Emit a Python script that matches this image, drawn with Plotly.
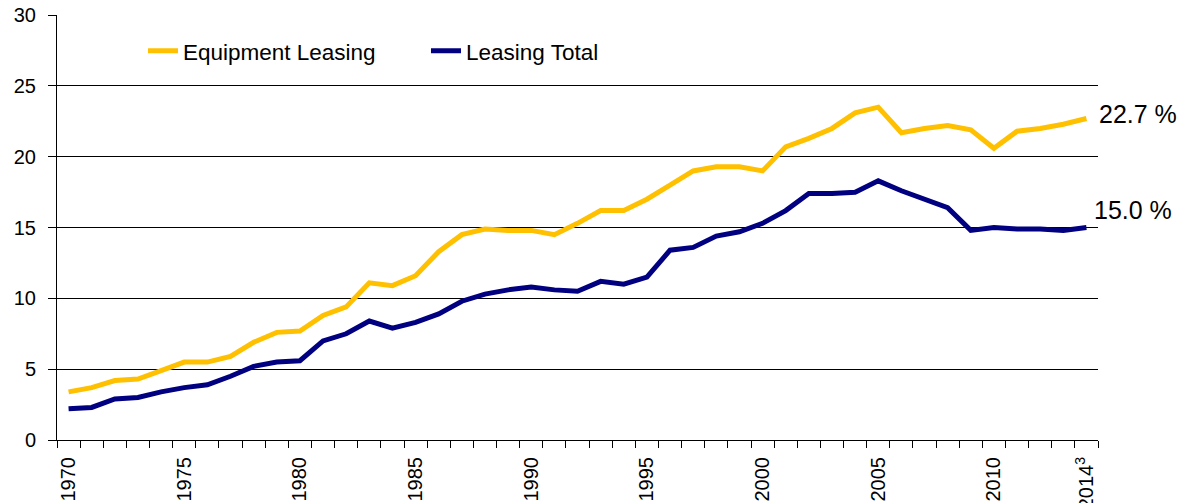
import plotly.graph_objects as go

years = list(range(1970, 2015))

equipment_leasing = [3.4, 3.7, 4.2, 4.3, 4.9, 5.5, 5.5, 5.9, 6.9, 7.6,
                     7.7, 8.8, 9.4, 11.1, 10.9, 11.6, 13.3, 14.5, 14.9, 14.8,
                     14.8, 14.5, 15.3, 16.2, 16.2, 17.0, 18.0, 19.0, 19.3, 19.3,
                     19.0, 20.7, 21.3, 22.0, 23.1, 23.5, 21.7, 22.0, 22.2, 21.9,
                     20.6, 21.8, 22.0, 22.3, 22.7]

leasing_total = [2.2, 2.3, 2.9, 3.0, 3.4, 3.7, 3.9, 4.5, 5.2, 5.5,
                 5.6, 7.0, 7.5, 8.4, 7.9, 8.3, 8.9, 9.8, 10.3, 10.6,
                 10.8, 10.6, 10.5, 11.2, 11.0, 11.5, 13.4, 13.6, 14.4, 14.7,
                 15.3, 16.2, 17.4, 17.4, 17.5, 18.3, 17.6, 17.0, 16.4, 14.8,
                 15.0, 14.9, 14.9, 14.8, 15.0]

tick_years = [1970, 1975, 1980, 1985, 1990, 1995, 2000, 2005, 2010, 2014]
tick_labels = ["1970", "1975", "1980", "1985", "1990", "1995", "2000", "2005", "2010", "2014<sup>3</sup>"]

FONT = "Liberation Sans, Arial, sans-serif"
YELLOW = "#FFC000"
NAVY = "#000080"

fig = go.Figure()
fig.add_trace(go.Scatter(x=years, y=equipment_leasing, mode="lines", name="Equipment Leasing",
                         line=dict(color=YELLOW, width=5)))
fig.add_trace(go.Scatter(x=years, y=leasing_total, mode="lines", name="Leasing Total",
                         line=dict(color=NAVY, width=5)))

# end-of-line value labels
fig.add_annotation(x=years[-1], y=equipment_leasing[-1], text=f"{equipment_leasing[-1]:.1f} %",
                   showarrow=False, xanchor="left", yanchor="middle", xshift=11, yshift=5,
                   font=dict(size=25, color="black", family=FONT))
fig.add_annotation(x=years[-1], y=leasing_total[-1], text=f"{leasing_total[-1]:.1f} %",
                   showarrow=False, xanchor="left", yanchor="middle", xshift=6, yshift=18,
                   font=dict(size=25, color="black", family=FONT))

# page body has an 8px margin, so the figure is drawn a bit smaller
fig.update_layout(
    width=1178, height=495,
    margin=dict(l=49, r=88, t=7, b=63, autoexpand=False),
    paper_bgcolor="white", plot_bgcolor="white",
    font=dict(family=FONT, size=20, color="black"),
    showlegend=True,
    legend=dict(orientation="h", x=0.0826, y=0.915, xanchor="left", yanchor="middle",
                entrywidth=238, font=dict(size=22.5), bgcolor="rgba(0,0,0,0)"),
)

fig.update_xaxes(
    range=[1969.5, 2014.5],
    tickmode="array", tickvals=tick_years, ticktext=tick_labels, tickangle=-90,
    ticks="outside", ticklen=8, tickcolor="rgba(0,0,0,0)",
    minor=dict(tick0=1969.5, dtick=1, ticks="outside", ticklen=7, tickcolor="black", showgrid=False),
    showgrid=False, zeroline=False,
    showline=True, linecolor="black", linewidth=1,
    tickfont=dict(size=20), ticklabeloverflow="allow",
)
fig.update_yaxes(
    range=[0, 30.01], tickmode="array", tickvals=[0, 5, 10, 15, 20, 25, 30],
    showgrid=True, gridcolor="black", gridwidth=1,
    zeroline=False,
    showline=True, linecolor="black", linewidth=1,
    ticks="outside", ticklen=8, tickcolor="black", ticklabelstandoff=8,
    tickfont=dict(size=20), ticklabeloverflow="allow",
)

fig.write_html("out.html")
